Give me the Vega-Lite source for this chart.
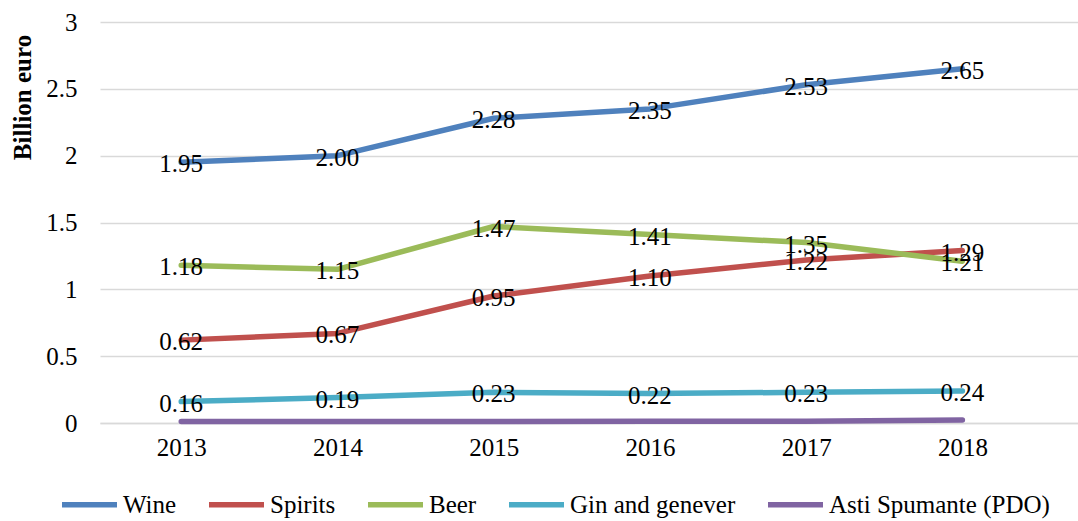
{
  "$schema": "https://vega.github.io/schema/vega-lite/v6.json",
  "width": 978,
  "height": 401,
  "autosize": {"type": "none"},
  "padding": {"left": 100, "top": 22, "right": 0, "bottom": 98},
  "background": "white",
  "config": {
    "font": "Liberation Serif",
    "view": {"stroke": null}
  },
  "data": {
    "values": [
      {"year": 2013, "series": "Wine", "value": 1.95},
      {"year": 2014, "series": "Wine", "value": 2.00},
      {"year": 2015, "series": "Wine", "value": 2.28},
      {"year": 2016, "series": "Wine", "value": 2.35},
      {"year": 2017, "series": "Wine", "value": 2.53},
      {"year": 2018, "series": "Wine", "value": 2.65},
      {"year": 2013, "series": "Spirits", "value": 0.62},
      {"year": 2014, "series": "Spirits", "value": 0.67},
      {"year": 2015, "series": "Spirits", "value": 0.95},
      {"year": 2016, "series": "Spirits", "value": 1.10},
      {"year": 2017, "series": "Spirits", "value": 1.22},
      {"year": 2018, "series": "Spirits", "value": 1.29},
      {"year": 2013, "series": "Beer", "value": 1.18},
      {"year": 2014, "series": "Beer", "value": 1.15},
      {"year": 2015, "series": "Beer", "value": 1.47},
      {"year": 2016, "series": "Beer", "value": 1.41},
      {"year": 2017, "series": "Beer", "value": 1.35},
      {"year": 2018, "series": "Beer", "value": 1.21},
      {"year": 2013, "series": "Gin and genever", "value": 0.16},
      {"year": 2014, "series": "Gin and genever", "value": 0.19},
      {"year": 2015, "series": "Gin and genever", "value": 0.23},
      {"year": 2016, "series": "Gin and genever", "value": 0.22},
      {"year": 2017, "series": "Gin and genever", "value": 0.23},
      {"year": 2018, "series": "Gin and genever", "value": 0.24},
      {"year": 2013, "series": "Asti Spumante (PDO)", "value": 0.012},
      {"year": 2014, "series": "Asti Spumante (PDO)", "value": 0.012},
      {"year": 2015, "series": "Asti Spumante (PDO)", "value": 0.012},
      {"year": 2016, "series": "Asti Spumante (PDO)", "value": 0.013},
      {"year": 2017, "series": "Asti Spumante (PDO)", "value": 0.013},
      {"year": 2018, "series": "Asti Spumante (PDO)", "value": 0.022}
    ]
  },
  "encoding": {
    "x": {
      "field": "year",
      "type": "quantitative",
      "scale": {"domain": [2012.48, 2018.74], "nice": false, "zero": false},
      "axis": {
        "values": [2013, 2014, 2015, 2016, 2017, 2018],
        "format": "d",
        "title": null,
        "grid": false,
        "ticks": false,
        "domain": true,
        "domainColor": "#d9d9d9",
        "domainWidth": 1.5,
        "labelFontSize": 25,
        "labelColor": "black",
        "labelPadding": 12,
        "labelFont": "Liberation Serif"
      }
    },
    "y": {
      "field": "value",
      "type": "quantitative",
      "scale": {"domain": [0, 3], "nice": false},
      "axis": {
        "values": [0, 0.5, 1, 1.5, 2, 2.5, 3],
        "format": "~g",
        "title": "Billion euro",
        "titleFont": "Liberation Serif",
        "titleFontSize": 25,
        "titleFontWeight": "bold",
        "titleColor": "black",
        "titleAngle": -90,
        "titleAlign": "center",
        "titleBaseline": "middle",
        "titleX": -78,
        "titleY": 75,
        "grid": true,
        "gridColor": "#d9d9d9",
        "gridWidth": 1.5,
        "domain": false,
        "ticks": false,
        "labelFontSize": 25,
        "labelColor": "black",
        "labelPadding": 23,
        "labelFont": "Liberation Serif"
      }
    },
    "color": {
      "field": "series",
      "type": "nominal",
      "sort": ["Wine", "Spirits", "Beer", "Gin and genever", "Asti Spumante (PDO)"],
      "scale": {
        "domain": ["Wine", "Spirits", "Beer", "Gin and genever", "Asti Spumante (PDO)"],
        "range": ["#4f81bd", "#c0504d", "#9bbb59", "#4bacc6", "#8064a2"]
      },
      "legend": {
        "title": null,
        "orient": "none",
        "direction": "horizontal",
        "legendX": -41,
        "legendY": 452,
        "symbolType": "stroke",
        "symbolSize": 3025,
        "symbolStrokeWidth": 5.5,
        "labelFontSize": 25,
        "labelFont": "Liberation Serif",
        "labelColor": "black",
        "labelOffset": 3,
        "columnPadding": 21,
        "labelLimit": 400
      }
    }
  },
  "layer": [
    {
      "transform": [{"filter": "datum.series !== 'Beer'"}],
      "mark": {"type": "line", "strokeWidth": 5.5, "strokeCap": "round", "strokeJoin": "round"}
    },
    {
      "transform": [{"filter": "datum.series === 'Beer'"}],
      "mark": {"type": "line", "strokeWidth": 5.5, "strokeCap": "round", "strokeJoin": "round"}
    },
    {
      "transform": [{"filter": "datum.series !== 'Asti Spumante (PDO)'"}],
      "mark": {"type": "text", "fontSize": 25, "font": "Liberation Serif", "color": "black", "baseline": "middle", "dy": 2},
      "encoding": {
        "color": {"value": "black"},
        "text": {"field": "value", "type": "quantitative", "format": ".2f"}
      }
    }
  ]
}
